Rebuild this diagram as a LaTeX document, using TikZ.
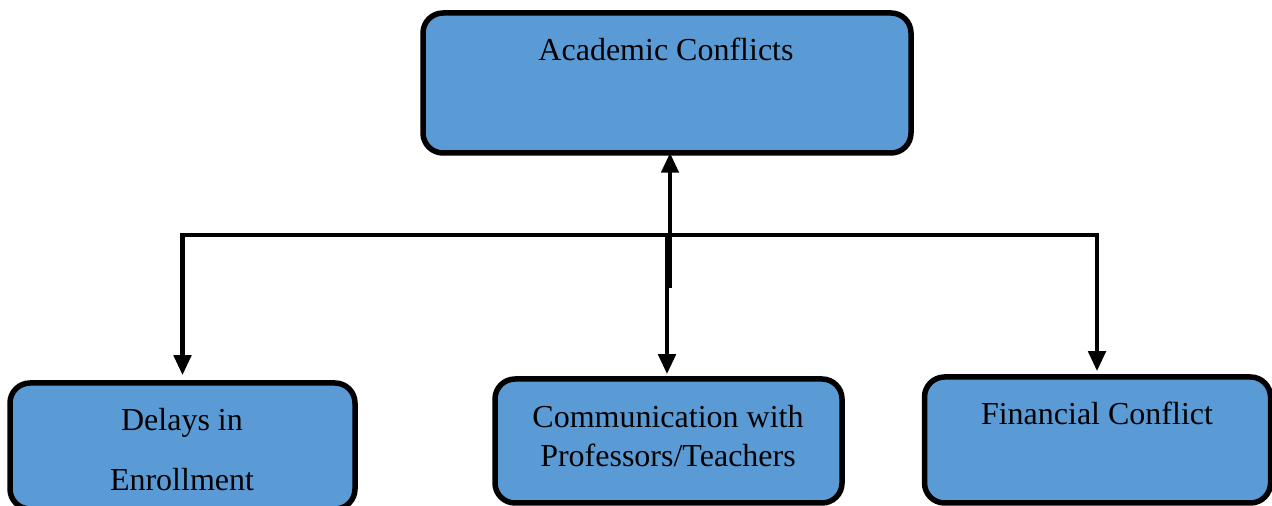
\documentclass[tikz,border=0pt]{standalone}
\usepackage{fontspec}
\setmainfont{Liberation Serif}
\usetikzlibrary{arrows.meta}
\definecolor{boxblue}{RGB}{91,155,213}
\tikzset{
  boxnode/.style={draw=black, fill=boxblue, line width=2.75pt, rounded corners=10pt,
    inner sep=0pt, minimum width=#1},
  label text/.style={font=\fontsize{16}{19}\selectfont, inner sep=0pt, anchor=base},
  link/.style={line width=2.3pt, line join=miter, >={Triangle[width=8.5pt,length=10pt]}}
}
\begin{document}
\begin{tikzpicture}[x=0.5pt,y=-0.5pt]
\clip (0,0) rectangle (1272,506);
\useasboundingbox (0,0) rectangle (1272,506);

% boxes
\node[boxnode=244pt, minimum height=70pt] (top) at (667,83) {};
\node[boxnode=172.5pt, minimum height=63pt] (left) at (182.5,446) {};
\node[boxnode=173.5pt, minimum height=62pt] (mid) at (668.5,441) {};
\node[boxnode=173pt, minimum height=63pt] (right) at (1097.5,440) {};

% box texts
\node[label text] (ttop) at (666,61) {Academic Conflicts};
\node[label text] (tl1) at (182,431) {Delays in};
\node[label text] (tl2) at (182,491) {Enrollment};
\node[label text] (tm1) at (668,428) {Communication with};
\node[label text] (tm2) at (668,467) {Professors/Teachers};
\node[label text] (tr1) at (1097,425) {Financial Conflict};

% branch points
\coordinate (jr) at (1097,235);
\coordinate (jm) at (667,235);
\coordinate (stem) at (670,288);

% connectors
\draw[link, <->, shorten <=2.5pt, shorten >=1.5pt]
  (left.north) |- (jr) -- (jr |- right.north);
\draw[link, ->, shorten >=1pt] (jm) -- (jm |- mid.north);
\draw[link, ->, shorten >=-1.5pt] (stem) -- (stem |- top.south);
\end{tikzpicture}
\end{document}
